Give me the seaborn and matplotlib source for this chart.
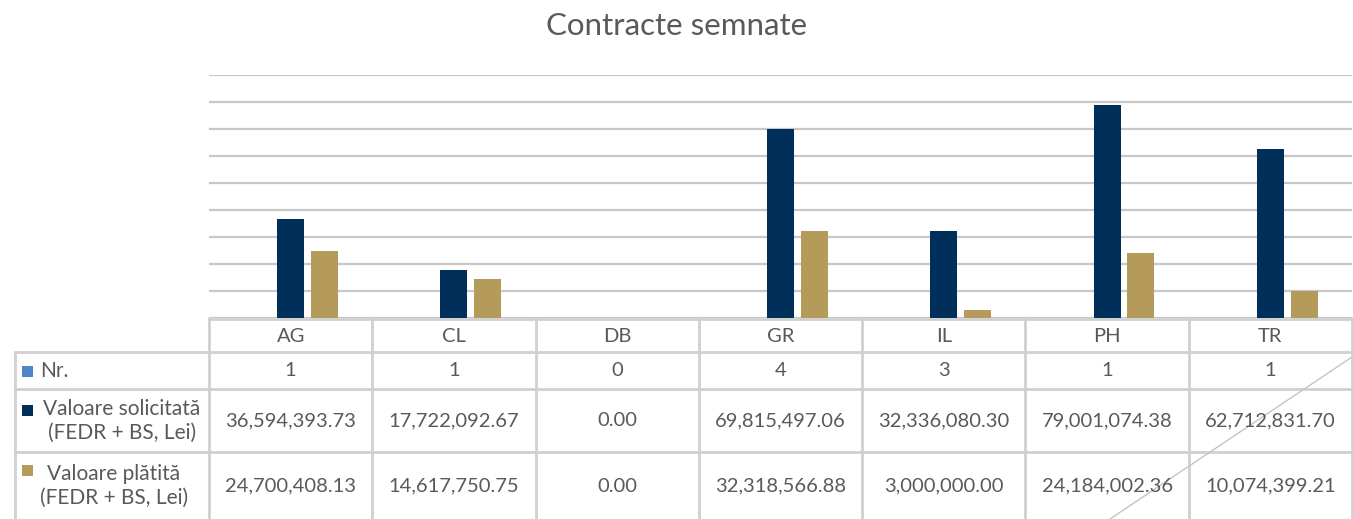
import pandas as pd
import matplotlib.pyplot as plt
import matplotlib.transforms as mtransforms
from matplotlib.lines import Line2D
from matplotlib.patches import Rectangle
from matplotlib.ticker import MultipleLocator
import seaborn as sns

judete = ["AG", "CL", "DB", "GR", "IL", "PH", "TR"]
nr_contracte = [1, 1, 0, 4, 3, 1, 1]
valoare_solicitata = [36594393.73, 17722092.67, 0.00, 69815497.06, 32336080.30, 79001074.38, 62712831.70]
valoare_platita = [24700408.13, 14617750.75, 0.00, 32318566.88, 3000000.00, 24184002.36, 10074399.21]

serii = ["Nr.", "Valoare solicitată\n(FEDR + BS, Lei)", "Valoare plătită\n(FEDR + BS, Lei)"]
culori = ["#4F86C6", "#00305A", "#B59B59"]

df = pd.concat([
    pd.DataFrame({"Judet": judete, "Valoare": nr_contracte, "Serie": serii[0]}),
    pd.DataFrame({"Judet": judete, "Valoare": valoare_solicitata, "Serie": serii[1]}),
    pd.DataFrame({"Judet": judete, "Valoare": valoare_platita, "Serie": serii[2]}),
])

sns.set_theme(style="white")
plt.rcParams["font.family"] = ["Lato", "DejaVu Sans"]

W, H = 1353, 519
fig = plt.figure(figsize=(W / 100, H / 100), dpi=100)
ax = fig.add_axes([209 / W, 1 - 318 / H, 1143 / W, 243 / H])

sns.barplot(data=df, x="Judet", y="Valoare", hue="Serie", hue_order=serii,
            palette=culori, saturation=1, width=0.62, gap=0.2, legend=False, ax=ax,
            errorbar=None, linewidth=0)

ax.set_xlim(-0.5, len(judete) - 0.5)
ax.set_ylim(0, 90_000_000)
ax.yaxis.set_major_locator(MultipleLocator(10_000_000))
ax.grid(axis="y", color="#c8c8c8", linewidth=1.6)
ax.set_axisbelow(True)
ax.set_xticks([])
ax.set_yticklabels([])
ax.tick_params(left=False, bottom=False)
ax.set_xlabel("")
ax.set_ylabel("")
sns.despine(ax=ax, left=True, bottom=True)

fig.text(0.5, 1 - 26 / H, "Contracte semnate", ha="center", va="center",
         fontsize=22.5, color="#595959")

def fy(y):
    return 1 - y / H

grey = "#d0d0d0"
txt = "#595959"
fs = 14.5
tr = mtransforms.blended_transform_factory(ax.transData, fig.transFigure)

# table grid
for i in range(len(judete) + 1):
    x = i - 0.5
    fig.add_artist(Line2D([x, x], [fy(318), fy(H)], transform=tr, color=grey, lw=2))
fig.add_artist(Line2D([15 / W, 15 / W], [fy(352), fy(H)], transform=fig.transFigure, color=grey, lw=2))
fig.add_artist(Line2D([209 / W, 1352 / W], [fy(319), fy(319)], transform=fig.transFigure, color=grey, lw=2))
for y in [352, 389, 452]:
    fig.add_artist(Line2D([15 / W, 1352 / W], [fy(y), fy(y)], transform=fig.transFigure, color=grey, lw=2))
fig.add_artist(Line2D([1110 / W, 1352 / W], [fy(519), fy(357)], transform=fig.transFigure, color="#c4c4c4", lw=1))

# table content
for i, j in enumerate(judete):
    fig.text(i, fy(337), j, transform=tr, ha="center", va="center", fontsize=fs, color=txt)
    fig.text(i, fy(371), f"{nr_contracte[i]}", transform=tr, ha="center", va="center", fontsize=fs, color=txt)
    fig.text(i, fy(421), f"{valoare_solicitata[i]:,.2f}", transform=tr, ha="center", va="center", fontsize=fs, color=txt)
    fig.text(i, fy(486), f"{valoare_platita[i]:,.2f}", transform=tr, ha="center", va="center", fontsize=fs, color=txt)

# legend keys
for (ky, col) in [(371, culori[0]), (410, culori[1]), (470, culori[2])]:
    fig.add_artist(Rectangle((22 / W, fy(ky + 5.5)), 11 / W, 11 / H, transform=fig.transFigure,
                             facecolor=col, edgecolor="none"))
fig.text(40 / W, fy(371), serii[0], ha="left", va="center", fontsize=15, color=txt)
fig.text(122 / W, fy(421), serii[1], ha="center", va="center", fontsize=15, color=txt,
         multialignment="center", linespacing=1.2)
fig.text(114 / W, fy(486), serii[2], ha="center", va="center", fontsize=15, color=txt,
         multialignment="center", linespacing=1.2)

fig.savefig("out.png", dpi=100)
